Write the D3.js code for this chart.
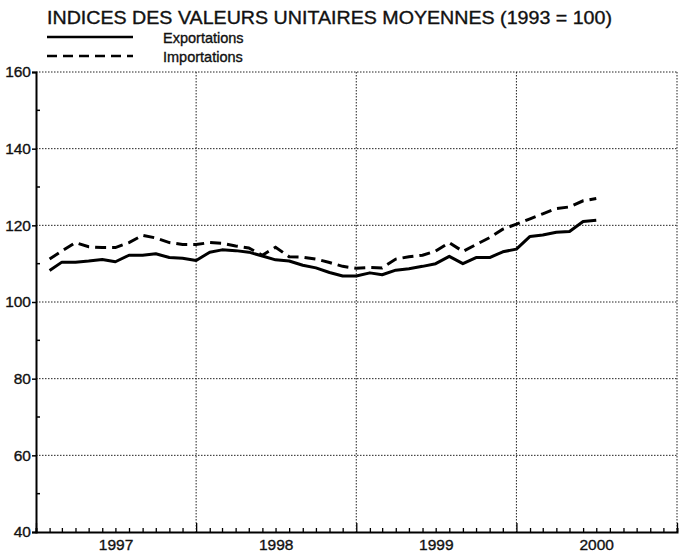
<!DOCTYPE html>
<html>
<head>
<meta charset="utf-8">
<script src="https://cdn.jsdelivr.net/npm/d3@7"></script>
<style>
  body { margin: 0; background: #fff; }
  svg { display: block; font-family: "Liberation Sans", Arial, sans-serif; }
  svg text { stroke: #111; stroke-width: 0.35px; }
</style>
</head>
<body>
<svg id="chart"></svg>
<script>
// valeurs mensuelles, janvier 1997 - juin 2000
const premierMois = new Date(1997, 0, 1);
const exportations = [
  108.2, 110.4, 110.4, 110.7, 111.1, 110.5, 112.2, 112.2, 112.6, 111.6, 111.4, 110.8,
  113.0, 113.6, 113.4, 113.0, 112.0, 111.0, 110.7, 109.6, 108.9, 107.7, 106.8, 106.8,
  107.6, 107.1, 108.3, 108.7, 109.3, 110.0, 111.9, 110.0, 111.6, 111.6, 113.1, 113.8,
  117.1, 117.5, 118.2, 118.4, 121.0, 121.3
];
const importations = [
  111.2, 113.3, 115.5, 114.4, 114.2, 114.2, 115.5, 117.4, 116.7, 115.5, 115.0, 115.0,
  115.5, 115.3, 114.6, 114.1, 112.2, 114.3, 111.8, 111.7, 111.2, 110.3, 109.3, 108.8,
  109.0, 108.9, 111.2, 111.8, 112.2, 113.3, 115.5, 113.2, 115.0, 116.8, 119.0, 120.3,
  121.7, 123.0, 124.4, 124.8, 126.4, 127.0
];
const annees = [1997, 1998, 1999, 2000];
const yTicks = [40, 60, 80, 100, 120, 140, 160];
const titre = 'INDICES DES VALEURS UNITAIRES MOYENNES (1993 = 100)';
const legende = ['Exportations', 'Importations'];

const width = 681;
const height = 555;
const margin = { left: 36, right: 4, top: 72, bottom: 23 };

const svg = d3.select('#chart')
  .attr('width', width)
  .attr('height', height);

const x = d3.scaleTime()
  .domain([new Date(annees[0], 0, 1), new Date(annees[annees.length - 1] + 1, 0, 1)])
  .range([margin.left, width - margin.right]);

const y = d3.scaleLinear()
  .domain([40, 160])
  .range([height - margin.bottom, margin.top]);

// points at the end of each month
const dateDe = function(i) { return d3.timeMonth.offset(premierMois, i + 1); };

// horizontal dotted grid
svg.append('g').attr('class', 'grid-y')
  .selectAll('line')
  .data(yTicks.slice(1))
  .enter().append('line')
  .attr('x1', margin.left).attr('x2', width - margin.right)
  .attr('y1', function(d) { return y(d); })
  .attr('y2', function(d) { return y(d); })
  .attr('stroke', '#222')
  .attr('stroke-width', 1)
  .attr('stroke-dasharray', '1.5,1.5');

// vertical dotted grid at year boundaries
const bornes = annees.slice(1).map(function(a) { return new Date(a, 0, 1); })
  .concat([x.domain()[1]]);
svg.append('g').attr('class', 'grid-x')
  .selectAll('line')
  .data(bornes)
  .enter().append('line')
  .attr('x1', function(d) { return x(d); })
  .attr('x2', function(d) { return x(d); })
  .attr('y1', margin.top).attr('y2', height - margin.bottom)
  .attr('stroke', '#222')
  .attr('stroke-width', 1)
  .attr('stroke-dasharray', '1.5,1.5');

// y axis
const yAxis = svg.append('g')
  .attr('transform', 'translate(' + margin.left + ',0)')
  .call(d3.axisLeft(y).tickValues(yTicks).tickSize(4).tickPadding(1));
yAxis.select('.domain').attr('stroke', '#000').attr('stroke-width', 2);
yAxis.selectAll('.tick line').attr('stroke', '#000').attr('stroke-width', 1.5);
yAxis.selectAll('.tick text')
  .attr('font-size', 15.5)
  .attr('fill', '#111')
  .attr('font-family', '"Liberation Sans", Arial, sans-serif');

// minor y ticks inside
svg.append('g')
  .selectAll('line')
  .data(d3.range(50, 160, 20))
  .enter().append('line')
  .attr('x1', margin.left).attr('x2', margin.left + 4)
  .attr('y1', function(d) { return y(d); })
  .attr('y2', function(d) { return y(d); })
  .attr('stroke', '#000')
  .attr('stroke-width', 1.5);

// x axis: month ticks pointing up, taller at years
const xAxis = svg.append('g')
  .attr('transform', 'translate(0,' + (height - margin.bottom) + ')')
  .call(d3.axisBottom(x).ticks(d3.timeMonth.every(1)).tickSize(-4).tickFormat(''));
xAxis.select('.domain').attr('stroke', '#000').attr('stroke-width', 2);
xAxis.selectAll('.tick line')
  .attr('stroke', '#000')
  .attr('stroke-width', 1.3)
  .attr('y2', function(d) { return d.getMonth() === 0 ? -9 : -4; });

svg.append('g')
  .selectAll('text')
  .data(annees)
  .enter().append('text')
  .attr('x', function(d) { return (x(new Date(d, 0, 1)) + x(new Date(d + 1, 0, 1))) / 2; })
  .attr('y', height - 5)
  .attr('text-anchor', 'middle')
  .attr('font-size', 15.5)
  .attr('fill', '#111')
  .text(function(d) { return d; });

// series
const ligne = d3.line()
  .x(function(d, i) { return x(dateDe(i)); })
  .y(function(d) { return y(d); });

svg.append('path')
  .datum(importations)
  .attr('d', ligne)
  .attr('fill', 'none')
  .attr('stroke', '#000')
  .attr('stroke-width', 3)
  .attr('stroke-dasharray', '11,6');

svg.append('path')
  .datum(exportations)
  .attr('d', ligne)
  .attr('fill', 'none')
  .attr('stroke', '#000')
  .attr('stroke-width', 3)
  .attr('stroke-linejoin', 'round');

// title and legend
svg.append('text')
  .attr('x', 47)
  .attr('y', 24)
  .attr('font-size', 18)
  .attr('fill', '#111')
  .attr('textLength', 565)
  .attr('lengthAdjust', 'spacingAndGlyphs')
  .text(titre);

const styles = [null, '10,6'];
const leg = svg.append('g').attr('class', 'legend');
legende.forEach(function(nom, i) {
  const yy = 37 + i * 19;
  leg.append('line')
    .attr('x1', 47).attr('x2', 133)
    .attr('y1', yy).attr('y2', yy)
    .attr('stroke', '#000')
    .attr('stroke-width', 2.5)
    .attr('stroke-dasharray', styles[i]);
  leg.append('text')
    .attr('x', 163)
    .attr('y', yy + 6)
    .attr('font-size', 14.5)
    .attr('fill', '#111')
    .text(nom);
});
</script>
</body>
</html>
